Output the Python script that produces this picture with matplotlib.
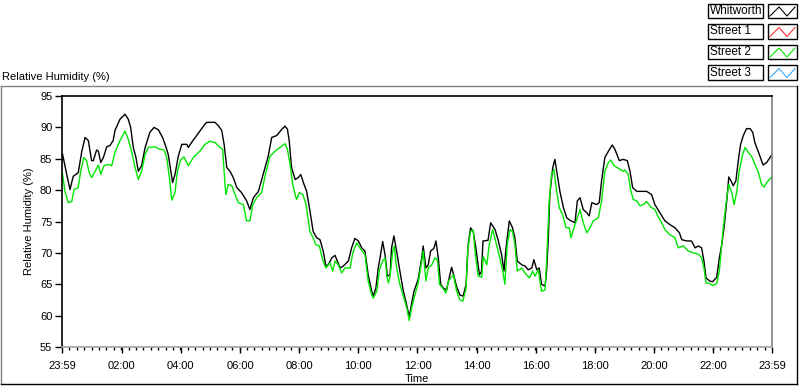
import matplotlib
matplotlib.use("Agg")
import matplotlib.pyplot as plt
from matplotlib.lines import Line2D
from matplotlib.patches import Rectangle
from matplotlib.ticker import FixedLocator, MultipleLocator

plt.rcParams['font.family'] = ['Liberation Sans', 'DejaVu Sans']
plt.rcParams['font.size'] = 8

# Horas desde las 23:59 del dia anterior
t_whitworth = [0.02, 0.16, 0.27, 0.38, 0.55, 0.67, 0.78, 0.89, 1.00, 1.06, 1.17, 1.23, 1.31, 1.40,
               1.51, 1.62, 1.73, 1.79, 1.96, 2.13, 2.24, 2.32, 2.41, 2.50, 2.58, 2.69, 2.81, 2.97,
               3.11, 3.26, 3.40, 3.52, 3.59, 3.65, 3.74, 3.82, 3.93, 4.05, 4.22, 4.27, 4.38, 4.55,
               4.83, 4.89, 5.17, 5.28, 5.40, 5.48, 5.57, 5.68, 5.79, 5.91, 6.07, 6.24, 6.35, 6.47,
               6.64, 6.80, 6.97, 7.09, 7.26, 7.43, 7.54, 7.62, 7.68, 7.76, 7.88, 7.99, 8.07, 8.16,
               8.27, 8.38, 8.49, 8.61, 8.72, 8.83, 8.92, 9.00, 9.12, 9.23, 9.29, 9.40, 9.51, 9.68,
               9.79, 9.90, 10.02, 10.13, 10.24, 10.35, 10.47, 10.52, 10.61, 10.69, 10.75, 10.84,
               10.92, 11.00, 11.09, 11.14, 11.22, 11.31, 11.42, 11.54, 11.65, 11.74, 11.82, 11.90,
               12.04, 12.16, 12.21, 12.30, 12.38, 12.46, 12.57, 12.64, 12.72, 12.80, 12.89, 13.00,
               13.11, 13.17, 13.25, 13.34, 13.45, 13.56, 13.66, 13.73, 13.81, 13.90, 13.99, 14.11,
               14.18, 14.23, 14.40, 14.49, 14.64, 14.75, 14.86, 14.94, 15.01, 15.12, 15.23, 15.31,
               15.39, 15.54, 15.65, 15.76, 15.88, 15.95, 16.05, 16.13, 16.21, 16.33, 16.38, 16.44,
               16.49, 16.59, 16.66, 16.74, 16.83, 16.95, 17.06, 17.17, 17.34, 17.42, 17.51, 17.62,
               17.74, 17.82, 17.91, 18.07, 18.16, 18.24, 18.35, 18.47, 18.60, 18.69, 18.84, 18.97,
               19.11, 19.20, 19.29, 19.43, 19.60, 19.76, 19.93, 20.04, 20.21, 20.38, 20.55, 20.72,
               20.87, 20.95, 21.12, 21.28, 21.40, 21.51, 21.62, 21.70, 21.77, 21.90, 21.99, 22.13,
               22.22, 22.30, 22.38, 22.47, 22.54, 22.61, 22.69, 22.78, 22.86, 22.94, 23.03, 23.14,
               23.26, 23.35, 23.42, 23.57, 23.70, 23.82, 23.99]
rh_whitworth = [85.7, 82.5, 80.1, 82.2, 82.8, 86.2, 88.4, 87.9, 84.7, 84.7, 86.4, 86.2, 84.4, 85.2,
                86.9, 87.1, 87.9, 89.5, 91.3, 92.1, 91.3, 90.0, 86.8, 85.2, 83.0, 83.9, 86.8, 89.2,
                90.0, 89.6, 88.4, 86.8, 85.7, 83.9, 81.2, 82.5, 85.4, 87.3, 87.3, 86.8, 87.6, 88.7,
                90.5, 90.8, 90.8, 90.3, 89.5, 87.3, 83.6, 83.0, 82.0, 80.4, 79.6, 78.3, 76.9, 78.8,
                79.8, 82.5, 85.4, 88.4, 88.7, 89.7, 90.2, 89.7, 87.9, 83.6, 81.7, 82.0, 82.5, 81.2,
                79.8, 76.7, 73.4, 72.4, 72.1, 70.3, 67.9, 68.1, 69.2, 69.6, 68.9, 67.6, 67.9, 68.7,
                70.8, 72.3, 71.9, 70.8, 70.3, 66.5, 63.9, 63.1, 64.4, 67.6, 69.2, 71.8,
                69.7, 66.3, 66.5, 70.8, 72.7, 70.3, 67.1, 63.9, 61.7, 59.8, 62.0, 63.9,
                65.8, 69.2, 71.1, 67.6, 68.1, 70.3, 70.7, 71.9, 69.2, 65.0, 64.4, 64.1,
                66.5, 67.7, 66.3, 64.6, 63.3, 63.1, 65.0, 71.3, 74.0, 73.4, 70.8, 66.5,
                67.0, 71.9, 72.0, 74.8, 73.7, 71.9, 69.7, 67.1, 70.8, 75.1, 74.0, 72.4,
                68.7, 68.1, 67.9, 67.3, 67.6, 68.9, 67.3, 67.6, 65.0, 64.7, 67.1, 72.4,
                79.3, 83.6, 84.9, 82.5, 79.8, 77.2, 75.6, 75.2, 74.8, 78.3, 78.8, 76.9,
                76.4, 75.9, 78.0, 77.7, 78.0, 81.5, 85.2, 86.2, 87.2, 86.5, 84.7, 84.9,
                84.7, 83.0, 80.4, 79.8, 79.8, 79.8, 79.3, 77.7, 76.4, 75.1, 74.5, 74.0,
                73.2, 72.1, 71.9, 71.9, 70.8, 71.1, 70.8, 68.7, 66.0, 65.5, 65.4, 66.1,
                69.2, 71.3, 74.0, 78.3, 82.1, 81.5, 80.7, 81.5, 84.7, 87.3, 88.7, 89.8,
                89.8, 89.2, 87.6, 85.7, 84.0, 84.4, 85.6]

t_street2 = [0.02, 0.10, 0.21, 0.33, 0.41, 0.55, 0.63, 0.74, 0.83, 0.92, 1.00, 1.12, 1.23, 1.31,
             1.42, 1.56, 1.68, 1.79, 1.96, 2.13, 2.24, 2.36, 2.47, 2.58, 2.69, 2.81, 2.92, 3.14,
             3.31, 3.45, 3.54, 3.63, 3.71, 3.82, 3.90, 4.01, 4.12, 4.27, 4.44, 4.66, 4.83, 5.00,
             5.17, 5.34, 5.43, 5.51, 5.54, 5.62, 5.74, 5.85, 5.96, 6.13, 6.24, 6.35, 6.45, 6.58,
             6.75, 6.86, 7.03, 7.20, 7.37, 7.54, 7.62, 7.71, 7.80, 7.88, 7.93, 8.02, 8.14, 8.25,
             8.38, 8.49, 8.58, 8.70, 8.81, 8.92, 9.06, 9.15, 9.23, 9.34, 9.45, 9.57, 9.74, 9.83,
             9.96, 10.07, 10.24, 10.35, 10.47, 10.52, 10.64, 10.73, 10.84, 10.92, 10.98, 11.03,
             11.09, 11.18, 11.23, 11.31, 11.42, 11.54, 11.65, 11.74, 11.82, 11.93, 12.04, 12.16,
             12.21, 12.30, 12.38, 12.50, 12.61, 12.69, 12.76, 12.87, 12.98, 13.06, 13.23, 13.34,
             13.45, 13.55, 13.66, 13.71, 13.81, 13.90, 13.96, 14.07, 14.19, 14.24, 14.36, 14.44,
             14.56, 14.69, 14.80, 14.90, 14.97, 15.05, 15.14, 15.23, 15.31, 15.39, 15.54, 15.65,
             15.80, 15.91, 15.99, 16.10, 16.21, 16.33, 16.38, 16.47, 16.55, 16.63, 16.72, 16.81,
             16.92, 17.04, 17.15, 17.20, 17.31, 17.42, 17.51, 17.62, 17.74, 17.85, 17.96, 18.13,
             18.24, 18.35, 18.47, 18.55, 18.66, 18.80, 18.97, 19.03, 19.14, 19.22, 19.31, 19.43,
             19.54, 19.65, 19.76, 19.90, 20.04, 20.16, 20.27, 20.38, 20.55, 20.72, 20.83, 21.00,
             21.17, 21.34, 21.51, 21.62, 21.70, 21.77, 21.90, 21.99, 22.13, 22.22, 22.33, 22.44,
             22.54, 22.64, 22.72, 22.81, 22.89, 23.01, 23.09, 23.20, 23.31, 23.42, 23.53, 23.65,
             23.73, 23.82, 23.99]
rh_street2 = [82.5, 79.8, 78.0, 78.2, 80.1, 80.4, 83.0, 85.2, 84.7, 82.8, 82.0, 83.0, 84.0, 82.5,
              83.9, 84.1, 83.9, 86.0, 87.9, 89.4, 88.1, 86.0, 83.6, 81.7, 83.0, 85.7, 86.8, 86.9,
              86.5, 86.4, 85.2, 82.0, 78.4, 79.6, 83.0, 84.8, 85.3, 83.9, 85.2, 86.2, 87.3, 87.8,
              87.6, 86.8, 86.5, 80.9, 79.3, 80.9, 80.7, 79.3, 78.0, 77.7, 75.1, 75.1, 77.7, 78.8,
              79.6, 82.2, 85.4, 86.2, 86.8, 87.4, 86.5, 84.1, 80.9, 79.3, 78.5, 79.6, 79.3, 77.7,
              73.4, 72.4, 71.3, 71.1, 68.9, 67.6, 68.4, 67.1, 68.7, 68.1, 66.8, 67.6, 67.6, 70.0,
              71.6, 70.8, 69.7, 65.5, 63.3, 62.8, 63.9, 67.3, 68.7, 69.2, 66.3, 65.2,
              66.3, 70.3, 71.1, 67.6, 65.0, 63.1, 61.3, 59.2, 61.3, 63.3, 65.2, 68.7,
              70.3, 65.5, 67.6, 68.1, 69.2, 68.9, 65.0, 64.4, 63.6, 65.5, 66.5, 63.9,
              62.5, 62.3, 64.4, 70.3, 73.4, 73.6, 70.3, 66.3, 66.1, 69.4, 68.1, 71.3,
              73.7, 71.3, 69.2, 67.1, 65.0, 71.3, 73.7, 73.4, 71.3, 67.1, 67.6, 66.8,
              66.0, 67.1, 66.3, 67.3, 63.9, 64.1, 68.7, 78.3, 82.5, 83.3, 79.8, 77.2,
              76.1, 74.0, 74.0, 72.4, 74.0, 75.6, 76.9, 74.8, 73.2, 74.0, 75.1, 75.6,
              78.3, 83.0, 84.4, 84.8, 83.9, 83.5, 83.0, 83.2, 82.5, 80.1, 78.5, 78.3,
              77.5, 77.7, 78.2, 77.3, 76.9, 75.7, 74.8, 73.7, 72.9, 72.4, 70.8, 71.1,
              70.3, 70.0, 69.8, 69.2, 67.6, 65.2, 65.1, 64.8, 65.1, 67.1, 72.9, 77.7,
              80.9, 79.6, 77.7, 79.8, 83.0, 85.7, 86.8, 86.0, 85.4, 84.1, 83.0, 80.9,
              80.5, 81.2, 82.1]

series_names = ['Whitworth', 'Street 1', 'Street 2', 'Street 3']
series_colors = ['#000000', '#ff3030', '#00e600', '#33aaff']

x_ticks = [0] + [h + 1 / 60 for h in range(2, 24, 2)] + [24]
x_labels = ['23:59', '02:00', '04:00', '06:00', '08:00', '10:00', '12:00',
            '14:00', '16:00', '18:00', '20:00', '22:00', '23:59']
y_ticks = [55, 60, 65, 70, 75, 80, 85, 90, 95]

W, H = 800, 386
fig = plt.figure(figsize=(W / 100, H / 100), dpi=100)


def fx(px):
    return px / W


def fy(py):
    return 1 - py / H


# Ejes principales
ax = fig.add_axes([fx(62), fy(347), fx(772) - fx(62), fy(96) - fy(347)])
ax.plot(t_whitworth, rh_whitworth, color=series_colors[0], lw=1.0)
ax.plot(t_street2, rh_street2, color=series_colors[2], lw=1.0)
ax.set_xlim(0, 24)
ax.set_ylim(55, 95)
ax.xaxis.set_major_locator(FixedLocator(x_ticks))
ax.set_xticklabels(x_labels)
ax.xaxis.set_minor_locator(MultipleLocator(0.25))
ax.set_yticks(y_ticks)
ax.tick_params(axis='x', which='major', length=4, width=1, pad=6, labelsize=8)
ax.tick_params(axis='x', which='minor', length=2, width=1)
ax.tick_params(axis='y', which='major', length=5, width=1, pad=2, labelsize=8)
ax.spines['top'].set_color('black')
ax.spines['left'].set_color('black')
ax.spines['right'].set_color('#808080')
ax.spines['bottom'].set_color('#a0a0a0')
for s in ax.spines.values():
    s.set_linewidth(1.2)
ax.set_xlabel('Time', fontsize=8, labelpad=2)
ax.set_ylabel('Relative Humidity (%)', fontsize=8, labelpad=4)

fig.text(fx(2), fy(77), 'Relative Humidity (%)', fontsize=8, va='center', ha='left')

# Marco del panel
fig.add_artist(Line2D([fx(1), fx(1)], [fy(86), fy(384)], color='#808080', lw=1))
fig.add_artist(Line2D([fx(1), fx(797)], [fy(86), fy(86)], color='#808080', lw=1))
fig.add_artist(Line2D([fx(797), fx(797)], [fy(86), fy(384)], color='black', lw=1))
fig.add_artist(Line2D([fx(1), fx(797)], [fy(384), fy(384)], color='black', lw=1))

# Leyenda
for i, (name, col) in enumerate(zip(series_names, series_colors)):
    top = 4 + i * 20.5
    h = 14
    fig.add_artist(Rectangle((fx(708), fy(top + h)), fx(763) - fx(708), fy(top) - fy(top + h),
                             facecolor='white', edgecolor='black', lw=1))
    fig.text(fx(710), fy(top + h / 2), name, fontsize=8.5, va='center', ha='left')
    fig.add_artist(Rectangle((fx(768), fy(top + h)), fx(797) - fx(768), fy(top) - fy(top + h),
                             facecolor='white', edgecolor='black', lw=1))
    zx = [770, 779, 787, 795]
    zy = [top + 12, top + 3, top + 12, top + 3]
    fig.add_artist(Line2D([fx(v) for v in zx], [fy(v) for v in zy], color=col, lw=0.8))

fig.savefig('out.png', dpi=100)
